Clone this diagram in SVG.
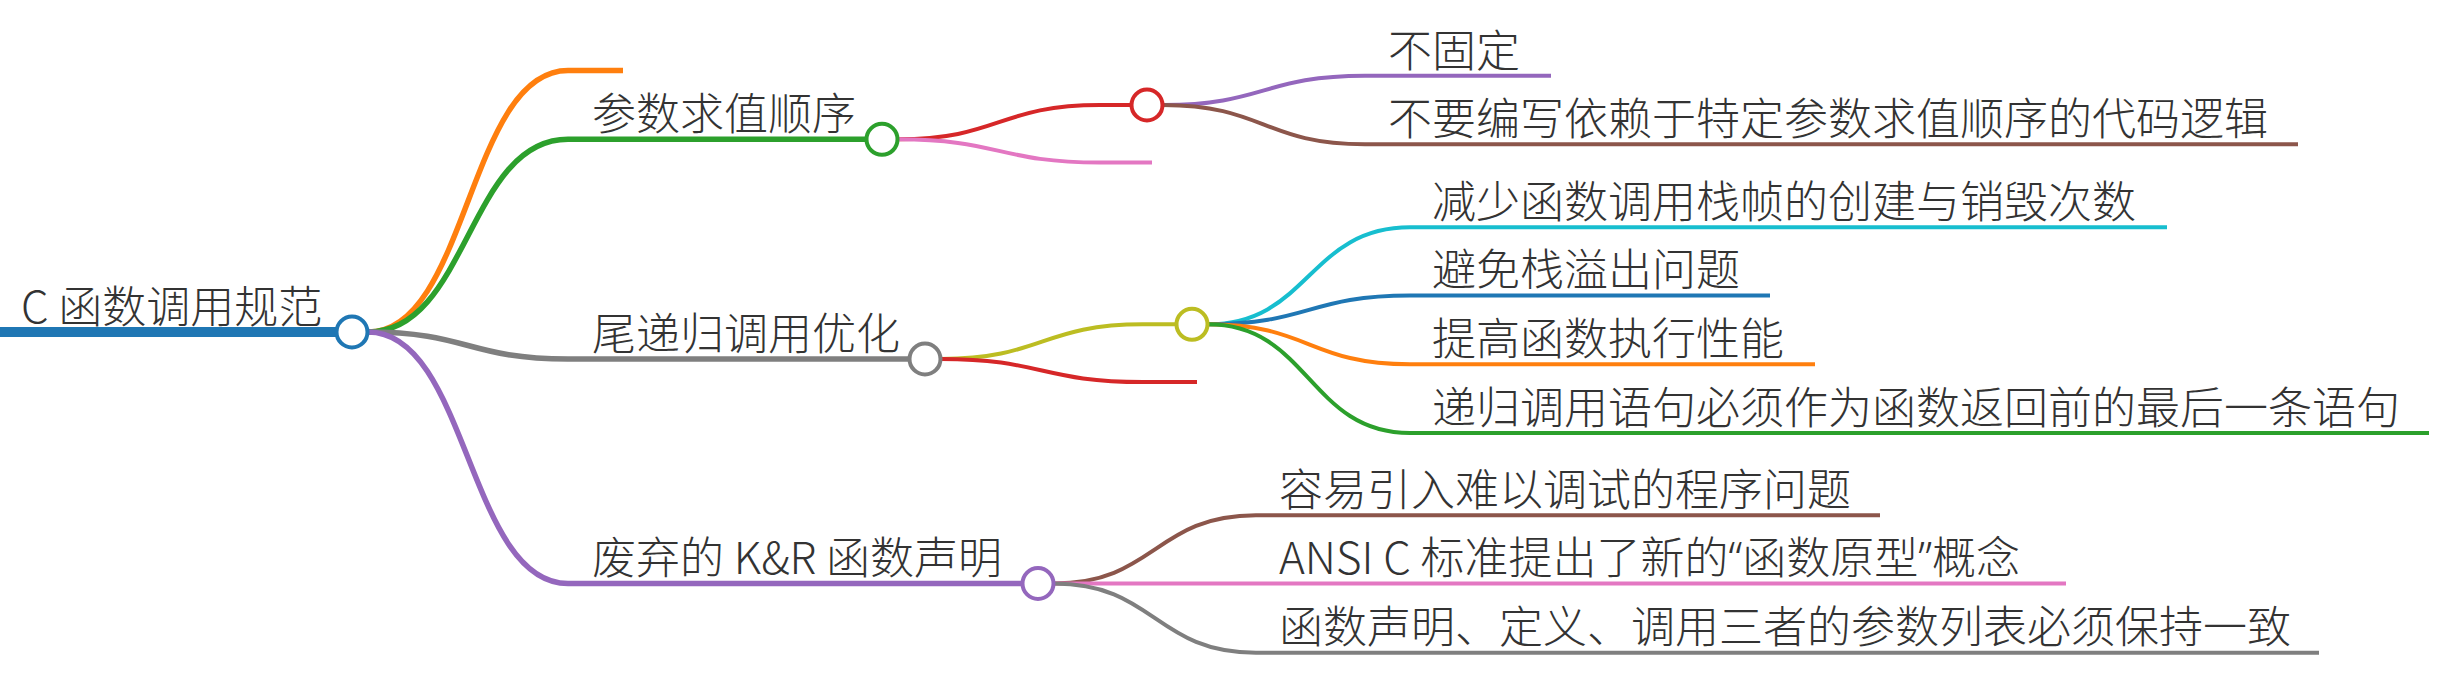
<svg xmlns="http://www.w3.org/2000/svg" width="2441" height="685" viewBox="0 0 2441 685">
<style>
.bg{fill:#ffffff}
path,line{fill:none;stroke-linecap:butt}
.w0{stroke-width:10}
.w1{stroke-width:5.5}
.w2{stroke-width:4}
.dot{fill:#ffffff;stroke-width:4}
.c0{stroke:#1f77b4}.c1{stroke:#ff7f0e}.c2{stroke:#2ca02c}.c3{stroke:#d62728}.c4{stroke:#9467bd}
.c5{stroke:#8c564b}.c6{stroke:#e377c2}.c7{stroke:#7f7f7f}.c8{stroke:#bcbd22}.c9{stroke:#17becf}
text{font-family:"Noto Sans CJK SC","Noto Sans",sans-serif;font-size:44px;font-weight:300;fill:#333333}
.q{font-family:"Noto Sans","Liberation Sans",sans-serif}
</style>
<rect class="bg" x="0" y="0" width="2441" height="685"/>
<g id="connectors">
<path class="w1 c1" d="M368,332 C468,332 468,70.5 568,70.5"/>
<path class="w1 c2" d="M368,332 C468,332 468,139.3 568,139.3"/>
<path class="w1 c7" d="M368,332 C468,332 468,359 568,359"/>
<path class="w1 c4" d="M368,332 C468,332 468,583.5 568,583.5"/>
<path class="w2 c3" d="M898,139.3 C999,139.3 999,105 1100,105"/>
<path class="w2 c6" d="M898,139.3 C999,139.3 999,162.5 1100,162.5"/>
<path class="w2 c8" d="M941,359 C1042,359 1042,324.3 1143,324.3"/>
<path class="w2 c3" d="M941,359 C1042,359 1042,382 1143,382"/>
<path class="w2 c5" d="M1054,583.5 C1155,583.5 1155,515.3 1256,515.3"/>
<path class="w2 c6" d="M1054,583.5 C1155,583.5 1155,583.5 1256,583.5"/>
<path class="w2 c7" d="M1054,583.5 C1155,583.5 1155,652.7 1256,652.7"/>
<path class="w2 c4" d="M1163,105 C1264,105 1264,75.7 1365,75.7"/>
<path class="w2 c5" d="M1163,105 C1264,105 1264,144.3 1365,144.3"/>
<path class="w2 c9" d="M1208,324.3 C1309,324.3 1309,227.3 1410,227.3"/>
<path class="w2 c0" d="M1208,324.3 C1309,324.3 1309,295.5 1410,295.5"/>
<path class="w2 c1" d="M1208,324.3 C1309,324.3 1309,364.3 1410,364.3"/>
<path class="w2 c2" d="M1208,324.3 C1309,324.3 1309,433 1410,433"/>
</g>
<g id="root">
<line class="w0 c0" x1="0" y1="332" x2="352" y2="332"/>
<circle class="dot c0" cx="352" cy="332" r="15.5"/>
<text x="21" y="323">C 函数调用规范</text>
</g>
<g id="n-empty-1">
<line class="w1 c1" x1="568" y1="70.5" x2="623" y2="70.5"/>
</g>
<g id="n-param-order">
<line class="w1 c2" x1="568" y1="139.3" x2="882" y2="139.3"/>
<circle class="dot c2" cx="882" cy="139.3" r="15.5"/>
<text x="592" y="130">参数求值顺序</text>
</g>
<g id="n-empty-2">
<line class="w2 c3" x1="1100" y1="105" x2="1147" y2="105"/>
<circle class="dot c3" cx="1147" cy="105" r="15.5"/>
</g>
<g id="n-not-fixed">
<line class="w2 c4" x1="1365" y1="75.7" x2="1551" y2="75.7"/>
<text x="1388" y="67">不固定</text>
</g>
<g id="n-no-depend">
<line class="w2 c5" x1="1365" y1="144.3" x2="2298" y2="144.3"/>
<text x="1388" y="135">不要编写依赖于特定参数求值顺序的代码逻辑</text>
</g>
<g id="n-empty-3">
<line class="w2 c6" x1="1100" y1="162.5" x2="1152" y2="162.5"/>
</g>
<g id="n-tail">
<line class="w1 c7" x1="568" y1="359" x2="925" y2="359"/>
<circle class="dot c7" cx="925" cy="359" r="15.5"/>
<text x="592" y="350">尾递归调用优化</text>
</g>
<g id="n-empty-4">
<line class="w2 c8" x1="1143" y1="324.3" x2="1192" y2="324.3"/>
<circle class="dot c8" cx="1192" cy="324.3" r="15.5"/>
</g>
<g id="n-reduce">
<line class="w2 c9" x1="1410" y1="227.3" x2="2167" y2="227.3"/>
<text x="1432" y="218">减少函数调用栈帧的创建与销毁次数</text>
</g>
<g id="n-overflow">
<line class="w2 c0" x1="1410" y1="295.5" x2="1770" y2="295.5"/>
<text x="1432" y="286">避免栈溢出问题</text>
</g>
<g id="n-perf">
<line class="w2 c1" x1="1410" y1="364.3" x2="1815" y2="364.3"/>
<text x="1432" y="355">提高函数执行性能</text>
</g>
<g id="n-last">
<line class="w2 c2" x1="1410" y1="433" x2="2429" y2="433"/>
<text x="1432" y="424">递归调用语句必须作为函数返回前的最后一条语句</text>
</g>
<g id="n-empty-5">
<line class="w2 c3" x1="1143" y1="382" x2="1197" y2="382"/>
</g>
<g id="n-kr">
<line class="w1 c4" x1="568" y1="583.5" x2="1038" y2="583.5"/>
<circle class="dot c4" cx="1038" cy="583.5" r="15.5"/>
<text x="592" y="574">废弃的 K&amp;R 函数声明</text>
</g>
<g id="n-debug">
<line class="w2 c5" x1="1256" y1="515.3" x2="1880" y2="515.3"/>
<text x="1279" y="506">容易引入难以调试的程序问题</text>
</g>
<g id="n-ansi">
<line class="w2 c6" x1="1256" y1="583.5" x2="2066" y2="583.5"/>
<text x="1279" y="574">ANSI C 标准提出了新的<tspan class="q">“</tspan>函数原型<tspan class="q">”</tspan>概念</text>
</g>
<g id="n-consistent">
<line class="w2 c7" x1="1256" y1="652.7" x2="2319" y2="652.7"/>
<text x="1279" y="643">函数声明、定义、调用三者的参数列表必须保持一致</text>
</g>
</svg>
